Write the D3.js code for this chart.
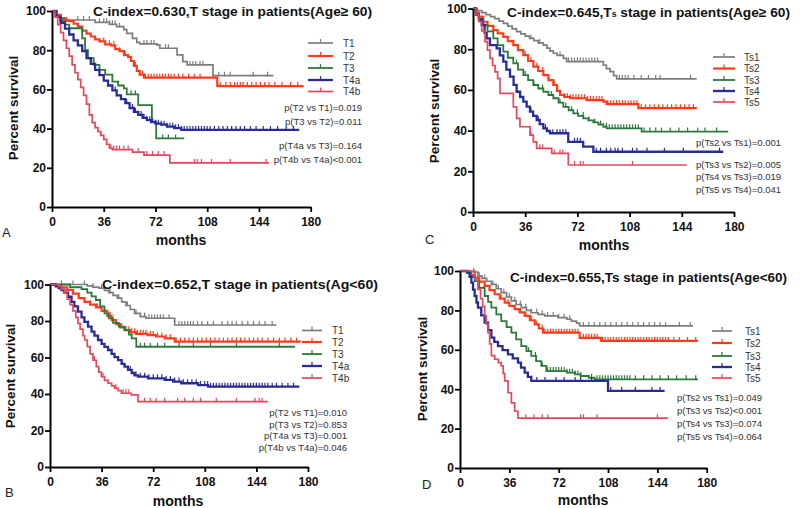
<!DOCTYPE html>
<html><head><meta charset="utf-8">
<script src="https://cdn.jsdelivr.net/npm/d3@7"></script>
<style>body{margin:0;background:#fff} svg{display:block} text{font-family:"Liberation Sans",Arial,Helvetica,sans-serif}</style>
</head><body><svg id="c" width="800" height="508"></svg>
<script>
// ---------- data ----------
const xTicks = [0,36,72,108,144,180];
const yTicks = [0,20,40,60,80,100];

// Panel A : T stage, Age >= 60
const A_T1 = [[0,100],[3,98],[6,96.5],[10,95.4],[30,94.2],[40,93.2],[45,92],[50,90.5],[52,88.6],[56,86],[59,84],[61,83.2],[73,82.7],[75,81],[84,81],[87,77.6],[91,74.2],[94,72.5],[110,72.5],[112,67],[154,67]];
const A_T2 = [[0,100],[3,98],[6,96],[10,95],[15,93.5],[18,92],[21,90],[24,88.5],[27,87],[30,85.5],[33,84.5],[37,83],[41,82.5],[44,80.5],[47,79.5],[50,77.5],[53,76.5],[55,74.5],[57,72],[59,69.5],[61,67.5],[64,66],[115,66],[115,61.7],[175,61.7]];
const A_T3 = [[0,100],[3,97],[6,95],[9,93],[12,91.2],[19,91.2],[21,86],[23,80],[25,75.9],[29,72.5],[33,70],[37,67.5],[42,64],[46,62],[50,60.5],[52,57.5],[60,52],[69.5,52],[69.5,43.5],[72.5,35],[92,35]];
const A_T4a = [[0,100],[3,97],[6,94],[9,91],[12,88],[15,85],[18,82.5],[21,79.5],[24,76],[27,73],[30,70],[33,67.3],[36,64.5],[39,62],[42,59.5],[45,57],[48,55],[51,53],[54,50.5],[57,48.5],[60,47],[63,45.5],[66,44.3],[69,43.3],[72,42.5],[76,42],[80,41],[85,40.2],[90,39.3],[172,39.3]];
const A_T4b = [[0,100],[2,97],[4,93],[6,89],[8,85],[10,81],[12,77],[14,72.5],[16,68.5],[18,65],[20,61],[22,57],[24,52.5],[26,47],[28,43],[30,40.5],[32,38.5],[34,36.5],[36,34.5],[38,32],[40,30],[42,29.3],[56,29.3],[56,28],[64,28],[64,26.5],[82,26.5],[82,22.5],[151,22.5]];
const A_T1c = [18,22,26,33,36,38,40,42,44,47,64,66,69,71,79,81,96,98,100,103,105,116,120,124,140,150];
const A_T2c = [36,40,43,47,51,55,58,61,63,65,67,69,71,73,75,77,79,81,83,85,88,91,95,99,103,117,121,124,127,129,131,133,136,139,142,145,148,151,155,160,166,171];
const A_T3c = [55,58,77,81,86];
const A_T4ac = [44,48,52,56,58,60,62,64,66,68,70,72,74,76,78,80,82,84,86,88,90,92,94,96,98,100,102,104,106,108,110,113,116,119,122,125,128,131,134,138,142,147,152,157,163,168];
const A_T4bc = [41,43,45,47,50,53,60,66,70,74,78,99,101,104,111,124,149];
const A_labels = ["T1","T2","T3","T4a","T4b"];
const A_p = ["p(T2 vs T1)=0.019","p(T3 vs T2)=0.011","p(T4a vs T3)=0.164","p(T4b vs T4a)<0.001"];

// Panel B : T stage, Age < 60
const B_T1 = [[0,100],[22,100],[26,99.2],[30,98.6],[34,98],[38,96.8],[41,95.5],[44,94],[47,92.5],[50,90.5],[53,88.5],[56,86.3],[59,84.2],[63,82.4],[67,81.5],[87,81.5],[87,77.8],[158,77.8]];
const B_T2 = [[0,100],[4,99.5],[8,98.5],[12,97],[16,95],[20,92.5],[24,90.5],[28,89],[32,87.5],[36,85.5],[40,82.8],[43,80.5],[46,78.3],[49,76.5],[52,75],[56,73.8],[60,73],[68,72.3],[74,71.5],[80,70.5],[87,68.7],[175,68.7]];
const B_T3 = [[0,100],[12,100],[14,98.5],[22,97.5],[26,95.5],[29,93.5],[32,91.5],[35,88],[38,84.2],[41,81.5],[44,79],[48,76.9],[52,75],[55,72.5],[57,70.5],[60.2,65.9],[171,65.9]];
const B_T4a = [[0,100],[4,99],[6,98],[8,97],[10,95.5],[12.6,93.3],[15,90.5],[17,88],[19.5,85.1],[22,82],[24,79.5],[26.5,76.9],[29,74.2],[31,72],[33.5,69.6],[36,67.5],[38,65.8],[40.5,64.1],[43,62],[45,60.2],[47.5,58.6],[50,56.5],[52,55],[54.4,53.2],[57,51.5],[59,50.2],[61.4,49.5],[68.4,48.6],[80,47.7],[86,46.8],[91.6,45.9],[103.3,44.9],[110.3,44],[174,44]];
const B_T4b = [[0,100],[6,99],[8,97.5],[10.2,95.2],[12,92],[14,89],[16,85.5],[18,82],[19.5,78.7],[21,75.5],[23,72],[24.2,69.6],[26,66],[28,62],[30,58.5],[32.3,55],[34,52],[35.8,49.5],[38,47.5],[40.5,45.9],[43,44.5],[45.1,43.1],[47.5,41.8],[49.8,40.4],[56.7,39.5],[61.4,35.8],[152,35.8]];
const B_T1c = [8,16,24,30,36,42,48,54,60,66,69,71,73,75,77,79,83,90,92,94,96,98,100,103,106,110,114,120,124,127,130,134,138,142,146,150,155];
const B_T2c = [20,28,33,38,42,46,50,53,55,57,59,61,63,65,67,70,72,75,78,81,84,88,91,94,97,100,103,106,109,112,115,118,121,124,127,130,133,136,139,142,145,148,152,156,160,164,168,172];
const B_T3c = [63,66,70,75,80,90,100,112,130,160];
const B_T4ac = [56,60,63,66,69,72,75,78,81,84,87,90,93,96,99,102,105,108,110,112,114,116,118,120,122,124,126,128,130,132,134,136,138,140,142,144,146,148,150,152,155,158,162,166,170];
const B_T4bc = [31,34,37,46,51,53,55,66,70,74,80,89,94,100,105,116,130,143,146,148];
const B_labels = ["T1","T2","T3","T4a","T4b"];
const B_p = ["p(T2 vs T1)=0.010","p(T3 vs T2)=0.853","p(T4a vs T3)=0.001","p(T4b vs T4a)=0.046"];

// Panel C : Ts stage, Age >= 60
const C_Ts1 = [[0,100],[3,99],[6,98],[9,97],[12,96],[15,95],[18,93.8],[21,92.7],[24,91.3],[27,90],[30,88.6],[33,87.5],[36,86.4],[39,85.3],[42,84.2],[45,83.1],[48.5,82],[51,80.5],[53,79.2],[55.4,78],[58,77],[62.3,75.5],[64.6,73.9],[88.7,73.9],[89.9,72.2],[92,70.5],[94.5,69],[97,67],[99.1,65.4],[154.3,65.4]];
const C_Ts2 = [[0,100],[2,98],[4,96],[7,93.5],[10,91.5],[14,89.4],[17,87.8],[20.9,86.1],[24,84],[27.8,82],[31,79.5],[34.7,77.1],[38,74.2],[41.6,71.4],[45,69.3],[48.5,67.3],[52,64.8],[55.4,62.4],[58,59.5],[60,57.5],[63,56.5],[66.9,55.9],[78.4,55],[89.9,54.2],[92.2,53],[114,53],[114,51],[154.3,51]];
const C_Ts3 = [[0,100],[2,97],[4,95],[7.1,91.9],[10,88.8],[14,85.3],[17,82],[20.9,78.8],[24,75.8],[27.8,73],[31,70],[34.7,67.3],[38,64.8],[41.6,62.4],[45,60.7],[48.5,59.1],[52,57.5],[55.4,55.9],[59,53.7],[62.3,51.7],[66,50],[69.2,48.5],[72.5,47.2],[76.1,46],[79.5,45],[83,44],[86.5,43],[89.9,41.9],[92.2,41.1],[116.3,41.1],[116.3,39.5],[176,39.5]];
const C_Ts4 = [[0,100],[2,97],[4,94.5],[6,91.9],[8,88],[9.4,85.3],[11.7,82],[16.3,80.4],[18.5,77],[20.9,73.9],[23,70],[25.5,66.5],[28,62.5],[30.1,59.1],[32.5,56.5],[34.7,54.2],[37,51.8],[39.3,49.3],[41.5,47.2],[43.9,45.2],[46,43.2],[48.5,41.1],[51,39.8],[53.1,38.7],[65.7,38.7],[65.7,34.5],[76,34.5],[76,32.1],[83,32.1],[83,29.6],[172.6,29.6]];
const C_Ts5 = [[0,100],[2,97],[4,93.5],[6,89],[8.3,83.7],[10,79.5],[11.7,75.5],[13.5,72],[15.2,68.9],[17,65.5],[18.6,58.3],[25.5,58.3],[27.8,51.7],[30.1,46],[32.4,41.9],[38.2,41.9],[39.3,37.8],[41.6,34.5],[43.9,31.3],[54.3,31.3],[54.3,28.8],[65.7,28.8],[65.7,23.1],[147.4,23.1]];
const C_Ts1c = [40,46,60,66,68,70,72,74,76,78,80,82,84,86,101,103,105,107,111,116,121,126,129,150];
const C_Ts2c = [36,40,44,48,52,56,60,63,65,67,69,71,73,75,77,79,81,83,85,87,89,93,95,97,99,101,103,105,107,109,111,113,116,119,122,125,128,131,134,137,140,143,146,149,152];
const C_Ts3c = [30,36,42,48,54,60,64,68,72,76,80,84,88,92,94,96,98,100,102,104,106,108,110,112,114,118,122,126,130,136,142,148,155,160,168];
const C_Ts4c = [40,45,50,55,58,60,62,64,70,72,74,85,88,92,95,98,100,103,110,113,120,132,145,170];
const C_Ts5c = [40,46,48,56,60,62,70,74,76,110];
const C_labels = ["Ts1","Ts2","Ts3","Ts4","Ts5"];
const C_p = ["p(Ts2 vs Ts1)=0.001","p(Ts3 vs Ts2)=0.005","p(Ts4 vs Ts3)=0.019","p(Ts5 vs Ts4)=0.041"];

// Panel D : Ts stage, Age < 60
const D_Ts1 = [[0,100],[8,99.5],[13.1,97.5],[16,96.3],[19.5,94.8],[22.9,93.2],[26.5,91],[30.1,89],[34,86.8],[37.5,84.8],[41,83],[44.7,81.4],[48.5,80],[52,78.8],[57,78],[61.8,77.2],[71.5,76.3],[78,75.5],[81.2,74.6],[85,73.5],[87.3,72.1],[170,72.1]];
const D_Ts2 = [[0,100],[5,99],[8,98],[10.7,96.6],[14,94.6],[18,92.4],[21.5,90.3],[25.3,88.2],[29,86],[32.6,83.9],[36,82.3],[39.9,80.6],[43.5,79],[47.2,77.2],[51,75],[54.5,72.9],[57.5,70.8],[60.6,68.7],[87.3,68.7],[87.3,66.1],[103,66.1],[103,64.5],[173.6,64.5]];
const D_Ts3 = [[0,100],[5,99],[8,97],[10.7,94.9],[14,91.5],[18,87.3],[20.5,84.3],[22.9,81.4],[26.5,78],[30.1,74.6],[34,71.5],[37.5,68.7],[41,65.3],[44.7,61.9],[48.5,59.3],[52,56.9],[55.5,54.3],[59.3,51.8],[63,49.2],[74,49.2],[78,48.4],[84,47.5],[88,46.7],[94,45.8],[98.3,45],[173.6,45]];
const D_Ts4 = [[0,100],[5.8,99.5],[7,97],[8.3,94.1],[9.5,90.5],[10.7,87.3],[12,84],[13.1,81.4],[15.5,77.5],[18,73.8],[20.5,70],[22.9,66.2],[25,64],[27.7,61.9],[31,59.8],[35,57.7],[38.5,55.6],[42.3,53.5],[44.5,51],[47.2,48.4],[49.5,46.3],[52,44.2],[108,44.2],[108,39.1],[149.3,39.1]];
const D_Ts5 = [[0,100],[9,100],[11,96],[13.1,90.7],[15,86],[16.5,82],[18,77.2],[19.2,73],[20.4,68.7],[21.6,63],[22.9,57],[25.3,55.2],[28,53.5],[30.1,51.8],[31.5,48],[32.6,44.2],[35,38.2],[37.5,33.1],[39.9,28.8],[42.3,25.3],[151.8,25.3]];
const D_Ts1c = [10,14,18,24,28,32,36,40,44,48,52,56,60,64,68,72,76,80,90,94,98,102,106,110,114,118,122,126,130,134,138,142,146,150,160,168];
const D_Ts2c = [30,35,40,44,48,52,56,60,62,64,66,68,70,72,74,76,78,80,82,84,86,90,92,94,96,98,100,104,106,108,110,112,114,116,118,120,122,124,126,128,130,132,134,136,138,140,142,144,146,148,150,152,156,160,166,172];
const D_Ts3c = [50,55,60,64,66,68,70,72,74,76,78,80,82,84,86,88,96,100,102,104,106,108,110,112,114,116,118,120,122,124,128,134,140,146,152,158,165,172];
const D_Ts4c = [56,62,70,76,84,88,96,110,118,128,140,146];
const D_Ts5c = [48,54,60,64,88,90,100,144];
const D_labels = ["Ts1","Ts2","Ts3","Ts4","Ts5"];
const D_p = ["p(Ts2 vs Ts1)=0.049","p(Ts3 vs Ts2)<0.001","p(Ts4 vs Ts3)=0.074","p(Ts5 vs Ts4)=0.064"];

// ---------- styling / layout ----------
const colors = ["#7d7d7d","#ff3b1c","#2b7a3c","#2a2c96","#e4485c"];
const widths = [1.7,2.2,1.8,2.3,1.7];

const panels = [
  {curves:[A_T1,A_T2,A_T3,A_T4a,A_T4b], cens:[A_T1c,A_T2c,A_T3c,A_T4ac,A_T4bc], labels:A_labels, p:A_p,
   x0:52,x1:310.7,y0:207,y1:11, title:["C-index=0.630,T stage in patients(Age\u2265 60)"], tx:93, ty:16, tw:279,
   lg:{x1:308,x2:333,tx:343,ys:[43,56,68,80,91.5]}, pAnchor:"end", px:362, pys:[111,125,149,163],
   letter:"A", lx:2, ly:237, mx:181, my:245, ylx:13, yly:108},
  {curves:[B_T1,B_T2,B_T3,B_T4a,B_T4b], cens:[B_T1c,B_T2c,B_T3c,B_T4ac,B_T4bc], labels:B_labels, p:B_p,
   x0:50,x1:308,y0:467,y1:284.5, title:["C-index=0.652,T stage in patients(Ag<60)"], tx:102, ty:289, tw:276,
   lg:{x1:302,x2:322,tx:332,ys:[330.5,342,354,366,378]}, pAnchor:"end", px:347, pys:[416,427.5,439,450.5],
   letter:"B", lx:5, ly:497, mx:178, my:506, ylx:10, yly:376},
  {curves:[C_Ts1,C_Ts2,C_Ts3,C_Ts4,C_Ts5], cens:[C_Ts1c,C_Ts2c,C_Ts3c,C_Ts4c,C_Ts5c], labels:C_labels, p:C_p,
   x0:473,x1:734,y0:212,y1:8.5, title:["C-index=0.645,T","s"," stage in patients(Age\u2265 60)"], tx:507, ty:17, tw:283,
   lg:{x1:713,x2:735,tx:744,ys:[57,68.5,80,91,102]}, pAnchor:"start", px:696, pys:[146,168,180,193],
   letter:"C", lx:425, ly:244, mx:604, my:250, ylx:434, yly:111},
  {curves:[D_Ts1,D_Ts2,D_Ts3,D_Ts4,D_Ts5], cens:[D_Ts1c,D_Ts2c,D_Ts3c,D_Ts4c,D_Ts5c], labels:D_labels, p:D_p,
   x0:460,x1:706.7,y0:468,y1:271, title:["C-index=0.655,Ts stage in patients(Age<60)"], tx:510, ty:282, tw:277,
   lg:{x1:712,x2:732,tx:745,ys:[331,343,356,367,378]}, pAnchor:"start", px:677, pys:[401,414,427,440],
   letter:"D", lx:422, ly:489, mx:583, my:505, ylx:422, yly:369}
];

const svg = d3.select("#c");
const FONT = '"Liberation Sans",Arial,Helvetica,sans-serif';

function survAt(curve, t){
  let s = curve[0][1];
  for (const [ti,si] of curve){ if (ti <= t) s = si; else break; }
  return s;
}

panels.forEach(P => {
  const x = d3.scaleLinear().domain([0,180]).range([P.x0,P.x1]);
  const y = d3.scaleLinear().domain([0,100]).range([P.y0,P.y1]);
  const g = svg.append("g");

  // curves
  const line = d3.line().x(d=>x(d[0])).y(d=>y(d[1])).curve(d3.curveStepAfter);
  P.curves.forEach((c,i) => {
    g.append("path").datum(c).attr("d",line).attr("fill","none")
      .attr("stroke",colors[i]).attr("stroke-width",widths[i]).attr("stroke-linejoin","miter");
    g.append("g").selectAll("line").data(P.cens[i]).join("line")
      .attr("x1",d=>x(d)).attr("x2",d=>x(d))
      .attr("y1",d=>y(survAt(c,d))+0.5).attr("y2",d=>y(survAt(c,d))-4)
      .attr("stroke",colors[i]).attr("stroke-width",1.2);
  });

  // axes
  const ax = g.append("g").attr("transform",`translate(0,${P.y0})`)
    .call(d3.axisBottom(x).tickValues(xTicks).tickSize(5).tickSizeOuter(0).tickPadding(5));
  const ay = g.append("g").attr("transform",`translate(${P.x0},0)`)
    .call(d3.axisLeft(y).tickValues(yTicks).tickSize(5).tickSizeOuter(0).tickPadding(1));
  [ax,ay].forEach(a => {
    a.attr("font-size",12).attr("font-weight","bold").attr("font-family",FONT);
    a.select(".domain").attr("stroke","#000").attr("stroke-width",2);
    a.selectAll(".tick line").attr("stroke","#000").attr("stroke-width",1.8);
    a.selectAll(".tick text").attr("fill","#111");
  });

  // title
  const t = g.append("text").attr("x",P.tx).attr("y",P.ty)
    .attr("font-size",13.5).attr("font-weight","bold").attr("fill","#111")
    .attr("textLength",P.tw).attr("lengthAdjust","spacingAndGlyphs");
  P.title.forEach((s,k) => {
    const ts = t.append("tspan").text(s);
    if (P.title.length===3 && k===1) ts.attr("font-size",8.5);
  });

  // legend
  P.labels.forEach((lab,i) => {
    const ly = P.lg.ys[i];
    g.append("line").attr("x1",P.lg.x1).attr("x2",P.lg.x2).attr("y1",ly).attr("y2",ly)
      .attr("stroke",colors[i]).attr("stroke-width",widths[i]);
    const mid = (P.lg.x1+P.lg.x2)/2;
    g.append("line").attr("x1",mid).attr("x2",mid).attr("y1",ly).attr("y2",ly-4)
      .attr("stroke",colors[i]).attr("stroke-width",1.2);
    g.append("text").attr("x",P.lg.tx).attr("y",ly+3.5).attr("font-size",10)
      .attr("fill","#333").text(lab);
  });

  // p-values
  P.p.forEach((s,i) => {
    g.append("text").attr("x",P.px).attr("y",P.pys[i]).attr("font-size",9.5)
      .attr("fill","#333").attr("text-anchor",P.pAnchor).text(s);
  });

  // labels
  g.append("text").attr("x",P.lx).attr("y",P.ly).attr("font-size",13).attr("fill","#222").text(P.letter);
  g.append("text").attr("x",P.mx).attr("y",P.my).attr("font-size",14).attr("font-weight","bold")
    .attr("text-anchor","middle").attr("fill","#111").text("months");
  g.append("text").attr("transform",`translate(${P.ylx},${P.yly}) rotate(-90)`)
    .attr("font-size",13.5).attr("font-weight","bold").attr("text-anchor","middle")
    .attr("dy","0.35em").attr("fill","#111").text("Percent survival");
});
</script></body></html>
